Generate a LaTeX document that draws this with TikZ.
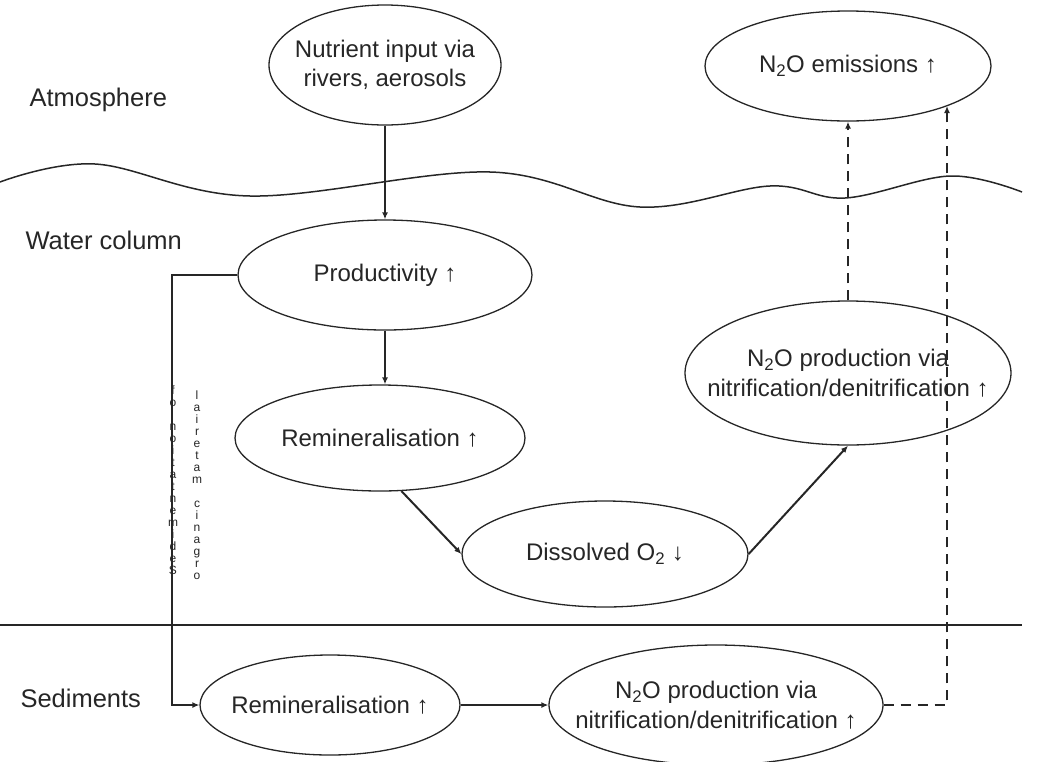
\documentclass[tikz,border=0pt]{standalone}
\usepackage{fontspec}
\setmainfont{Liberation Sans}
\usetikzlibrary{shapes.geometric,arrows.meta}
\definecolor{ink}{gray}{0.15}
\begin{document}
\begin{tikzpicture}[x=1pt,y=-1pt,
  bub/.style={draw=ink, ellipse, line width=1.3pt, inner sep=0pt},
  txt/.style={align=center, text=ink, font=\fontsize{24}{29.5}\selectfont},
  lbl/.style={anchor=west, text=ink, font=\fontsize{25.5}{30}\selectfont},
  vtxt/.style={align=center, text=ink, inner sep=0pt, font=\fontsize{12}{12}\selectfont},
  flow/.style={draw=ink, line width=2pt, -{Latex[length=7pt,width=6pt]}},
  dflow/.style={draw=ink, line width=2pt, dash pattern=on 10pt off 7pt, -{Latex[length=7pt,width=6pt]}},
  sep/.style={draw=ink, line width=1.5pt}]
\useasboundingbox (0,0) rectangle (1054,761);

% boundaries
\draw[sep] plot[smooth, tension=0.6] coordinates {(0,182) (95,164) (250,196) (490,172) (640,207) (770,186) (845,198) (950,176) (1022,192)};
\draw[sep] (0,625) -- (1022,625);

% region labels
\node[lbl] (atm) at (26,100) {Atmosphere};
\node[lbl] (wat) at (22,240) {Water column};
\node[lbl] (sed) at (17,698) {Sediments};

% ellipses
\node[bub, minimum width=232pt, minimum height=120pt] (nut) at (385,65) {};
\node[bub, minimum width=286pt, minimum height=110pt] (emis) at (848,66) {};
\node[bub, minimum width=294pt, minimum height=110pt] (prod) at (385,275) {};
\node[bub, minimum width=290pt, minimum height=106pt] (rem1) at (380,438) {};
\node[bub, minimum width=286pt, minimum height=106pt] (diss) at (605,554) {};
\node[bub, minimum width=326pt, minimum height=144pt] (n2ow) at (848,373) {};
\node[bub, minimum width=260pt, minimum height=100pt] (rem2) at (330,705) {};
\node[bub, minimum width=334pt, minimum height=120pt] (n2os) at (716,705) {};

% texts
\node[txt] (tnut) at (nut) {Nutrient input via\\rivers, aerosols};
\node[txt] (temis) at (emis) {N\textsubscript{2}O emissions ↑};
\node[txt] (tprod) at (prod) {Productivity ↑};
\node[txt] (trem1) at (rem1) {Remineralisation ↑};
\node[txt] (tdiss) at (diss) {Dissolved O\textsubscript{2} ↓};
\node[txt] (tn2ow) at (n2ow) {N\textsubscript{2}O production via\\nitrification/denitrification ↑};
\node[txt] (trem2) at (rem2) {Remineralisation ↑};
\node[txt] (tn2os) at (n2os) {N\textsubscript{2}O production via\\nitrification/denitrification ↑};

% connectors
\draw[flow] (nut.south) -- (prod.north);
\draw[flow] (prod.south) -- (prod.south |- rem1.north);
\draw[flow] (rem1.-68) -- (diss.west);
\draw[flow] (diss.east) -- (n2ow.south);
\draw[flow] (prod.west) -- ++(-65,0) |- (rem2.west);
\draw[flow] (rem2.east) -- (n2os.west);
\draw[dflow] (n2ow.north) -- (emis.south);
\coordinate (corner) at (947,705);
\coordinate (etop) at (947,106);
\draw[dflow] (n2os.east) -- (corner) -- (etop);

% stacked vertical text
\node[vtxt] (v1) at (173,480) {f\\o\\~\\n\\o\\i\\t\\a\\t\\n\\e\\m\\i\\d\\e\\S};
\node[vtxt] (v2) at (197,485) {l\\a\\i\\r\\e\\t\\a\\m\\~\\c\\i\\n\\a\\g\\r\\o};
\end{tikzpicture}
\end{document}
